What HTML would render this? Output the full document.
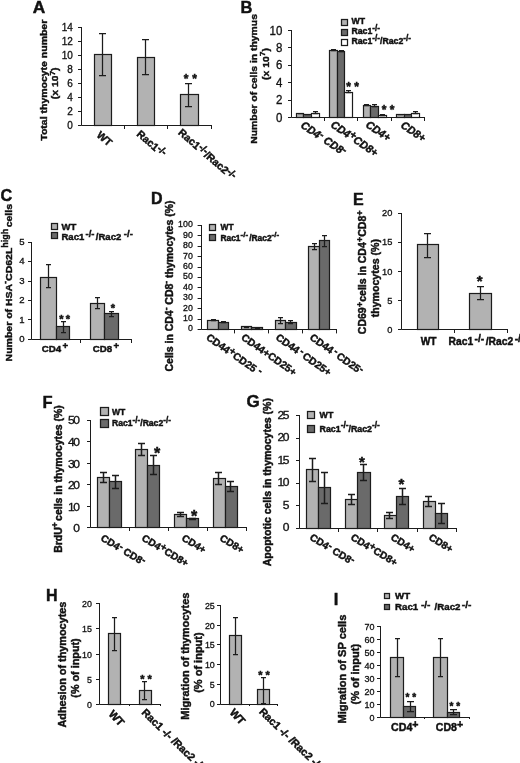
<!DOCTYPE html>
<html lang="en"><head><meta charset="utf-8"><title>Figure</title>
<style>
html,body{margin:0;padding:0;background:#fff}
body{width:520px;height:763px;overflow:hidden}
svg{display:block;font-family:"Liberation Sans",Arial,Helvetica,sans-serif}
</style></head><body>
<svg width="520" height="763" viewBox="0 0 520 763">
<rect width="520" height="763" fill="#fff"/>
<g>
<text transform="translate(32.80 13.20) scale(1.050 1.000)" font-size="16.50" font-weight="bold" stroke="#111111" stroke-width="0.45" fill="#111111">A</text>
<path d="M81.5 27.0V125.5H212.0M78.0 125.5H81.5M78.0 111.5H81.5M78.0 97.5H81.5M78.0 83.5H81.5M78.0 69.5H81.5M78.0 55.5H81.5M78.0 41.5H81.5M78.0 27.5H81.5M124.5 125.5V129.0M167.5 125.5V129.0M211.5 125.5V129.0" stroke="#1c1c1c" stroke-width="1.00" fill="none"/>
<text transform="translate(72.90 129.18) scale(1.000 1.050)" font-size="10.00" stroke="#111111" stroke-width="0.30" text-anchor="end" fill="#111111">0</text>
<text transform="translate(72.90 115.14) scale(1.000 1.050)" font-size="10.00" stroke="#111111" stroke-width="0.30" text-anchor="end" fill="#111111">2</text>
<text transform="translate(72.90 101.10) scale(1.000 1.050)" font-size="10.00" stroke="#111111" stroke-width="0.30" text-anchor="end" fill="#111111">4</text>
<text transform="translate(72.90 87.06) scale(1.000 1.050)" font-size="10.00" stroke="#111111" stroke-width="0.30" text-anchor="end" fill="#111111">6</text>
<text transform="translate(72.90 73.02) scale(1.000 1.050)" font-size="10.00" stroke="#111111" stroke-width="0.30" text-anchor="end" fill="#111111">8</text>
<text transform="translate(72.90 58.98) scale(1.000 1.050)" font-size="10.00" stroke="#111111" stroke-width="0.30" text-anchor="end" fill="#111111">10</text>
<text transform="translate(72.90 44.94) scale(1.000 1.050)" font-size="10.00" stroke="#111111" stroke-width="0.30" text-anchor="end" fill="#111111">12</text>
<text transform="translate(72.90 30.90) scale(1.000 1.050)" font-size="10.00" stroke="#111111" stroke-width="0.30" text-anchor="end" fill="#111111">14</text>
<rect x="94.5" y="54.5" width="17.0" height="71.0" fill="#b2b2b2" stroke="#1c1c1c" stroke-width="1.20"/>
<path d="M102.5 33.5V75.5M99.0 33.5H106.0M99.0 75.5H106.0" stroke="#1c1c1c" stroke-width="1.25" fill="none"/>
<rect x="137.5" y="57.5" width="17.0" height="68.0" fill="#b2b2b2" stroke="#1c1c1c" stroke-width="1.20"/>
<path d="M145.5 39.5V74.5M142.0 39.5H149.0M142.0 74.5H149.0" stroke="#1c1c1c" stroke-width="1.25" fill="none"/>
<rect x="180.5" y="94.5" width="18.0" height="31.0" fill="#b2b2b2" stroke="#1c1c1c" stroke-width="1.20"/>
<path d="M188.5 83.5V106.5M185.0 83.5H192.0M185.0 106.5H192.0" stroke="#1c1c1c" stroke-width="1.25" fill="none"/>
<text transform="translate(186.00 82.50) scale(1.000 1.000)" font-size="12.00" font-weight="bold" stroke="#111111" stroke-width="0.45" text-anchor="middle" fill="#111111">*</text>
<text transform="translate(194.50 82.50) scale(1.000 1.000)" font-size="12.00" font-weight="bold" stroke="#111111" stroke-width="0.45" text-anchor="middle" fill="#111111">*</text>
<text transform="translate(47.00 80.20) rotate(-90.0) scale(1.000 0.900)" font-size="10.50" font-weight="bold" stroke="#111111" stroke-width="0.45" text-anchor="middle" fill="#111111">Total thymocyte number</text>
<text transform="translate(58.30 83.30) rotate(-90.0) scale(1.000 0.900)" font-size="10.40" font-weight="bold" stroke="#111111" stroke-width="0.45" text-anchor="middle" fill="#111111">(x 10<tspan dy="-3.95" font-size="8.32">7</tspan><tspan dy="3.95">)</tspan></text>
<text transform="translate(96.00 136.00) rotate(41.0) scale(1.000 1.000)" font-size="10.50" font-weight="bold" stroke="#111111" stroke-width="0.45" fill="#111111">WT</text>
<text transform="translate(136.00 135.00) rotate(41.0) scale(1.000 1.000)" font-size="10.50" font-weight="bold" stroke="#111111" stroke-width="0.45" fill="#111111">Rac1<tspan dy="-2.31" font-size="9.97">-/-</tspan></text>
<text transform="translate(177.50 133.50) rotate(41.0) scale(1.000 1.000)" font-size="10.50" font-weight="bold" stroke="#111111" stroke-width="0.45" fill="#111111">Rac1<tspan dy="-2.31" font-size="9.97">-/-</tspan><tspan dy="2.31">/Rac2</tspan><tspan dy="-2.31" font-size="9.97">-/-</tspan></text>
</g>
<g>
<text transform="translate(240.50 13.20) scale(1.000 1.000)" font-size="16.50" font-weight="bold" stroke="#111111" stroke-width="0.45" fill="#111111">B</text>
<path d="M291.5 30.0V117.5H425.0M288.0 117.5H291.5M288.0 100.5H291.5M288.0 82.5H291.5M288.0 65.5H291.5M288.0 47.5H291.5M288.0 30.5H291.5M324.5 117.5V121.0M357.5 117.5V121.0M391.5 117.5V121.0M424.5 117.5V121.0" stroke="#1c1c1c" stroke-width="1.00" fill="none"/>
<text transform="translate(282.40 121.55) scale(1.000 1.050)" font-size="11.50" stroke="#111111" stroke-width="0.30" text-anchor="end" fill="#111111">0</text>
<text transform="translate(282.40 104.15) scale(1.000 1.050)" font-size="11.50" stroke="#111111" stroke-width="0.30" text-anchor="end" fill="#111111">2</text>
<text transform="translate(282.40 86.75) scale(1.000 1.050)" font-size="11.50" stroke="#111111" stroke-width="0.30" text-anchor="end" fill="#111111">4</text>
<text transform="translate(282.40 69.35) scale(1.000 1.050)" font-size="11.50" stroke="#111111" stroke-width="0.30" text-anchor="end" fill="#111111">6</text>
<text transform="translate(282.40 51.95) scale(1.000 1.050)" font-size="11.50" stroke="#111111" stroke-width="0.30" text-anchor="end" fill="#111111">8</text>
<text transform="translate(282.40 34.55) scale(1.000 1.050)" font-size="11.50" stroke="#111111" stroke-width="0.30" text-anchor="end" fill="#111111">10</text>
<rect x="296.5" y="113.5" width="7.0" height="4.0" fill="#b2b2b2" stroke="#1c1c1c" stroke-width="1.20"/>
<path d="M300.5 113.5V113.5M298.0 113.5H303.0M298.0 113.5H303.0" stroke="#1c1c1c" stroke-width="1.25" fill="none"/>
<rect x="303.5" y="114.5" width="8.0" height="3.0" fill="#6a6a6a" stroke="#1c1c1c" stroke-width="1.20"/>
<path d="M307.5 114.5V114.5M305.0 114.5H310.0M305.0 114.5H310.0" stroke="#1c1c1c" stroke-width="1.25" fill="none"/>
<rect x="311.5" y="113.5" width="8.0" height="4.0" fill="#ffffff" stroke="#1c1c1c" stroke-width="1.20"/>
<path d="M315.5 111.5V113.5M313.0 111.5H318.0M313.0 113.5H318.0" stroke="#1c1c1c" stroke-width="1.25" fill="none"/>
<rect x="329.5" y="50.5" width="8.0" height="67.0" fill="#b2b2b2" stroke="#1c1c1c" stroke-width="1.20"/>
<path d="M333.5 49.5V50.5M331.0 49.5H336.0M331.0 50.5H336.0" stroke="#1c1c1c" stroke-width="1.25" fill="none"/>
<rect x="337.5" y="51.5" width="7.0" height="66.0" fill="#6a6a6a" stroke="#1c1c1c" stroke-width="1.20"/>
<path d="M341.5 50.5V51.5M339.0 50.5H344.0M339.0 51.5H344.0" stroke="#1c1c1c" stroke-width="1.25" fill="none"/>
<rect x="344.5" y="92.5" width="8.0" height="25.0" fill="#ffffff" stroke="#1c1c1c" stroke-width="1.20"/>
<path d="M348.5 90.5V92.5M346.0 90.5H351.0M346.0 92.5H351.0" stroke="#1c1c1c" stroke-width="1.25" fill="none"/>
<rect x="363.5" y="105.5" width="7.0" height="12.0" fill="#b2b2b2" stroke="#1c1c1c" stroke-width="1.20"/>
<path d="M366.5 104.5V105.5M364.0 104.5H369.0M364.0 105.5H369.0" stroke="#1c1c1c" stroke-width="1.25" fill="none"/>
<rect x="370.5" y="106.5" width="8.0" height="11.0" fill="#6a6a6a" stroke="#1c1c1c" stroke-width="1.20"/>
<path d="M374.5 104.5V106.5M372.0 104.5H377.0M372.0 106.5H377.0" stroke="#1c1c1c" stroke-width="1.25" fill="none"/>
<rect x="378.5" y="115.5" width="8.0" height="2.0" fill="#ffffff" stroke="#1c1c1c" stroke-width="1.20"/>
<path d="M382.5 114.5V115.5M380.0 114.5H385.0M380.0 115.5H385.0" stroke="#1c1c1c" stroke-width="1.25" fill="none"/>
<rect x="396.5" y="114.5" width="8.0" height="3.0" fill="#b2b2b2" stroke="#1c1c1c" stroke-width="1.20"/>
<path d="M400.5 114.5V114.5M398.0 114.5H403.0M398.0 114.5H403.0" stroke="#1c1c1c" stroke-width="1.25" fill="none"/>
<rect x="404.5" y="114.5" width="7.0" height="3.0" fill="#6a6a6a" stroke="#1c1c1c" stroke-width="1.20"/>
<path d="M407.5 114.5V114.5M405.0 114.5H410.0M405.0 114.5H410.0" stroke="#1c1c1c" stroke-width="1.25" fill="none"/>
<rect x="411.5" y="113.5" width="8.0" height="4.0" fill="#ffffff" stroke="#1c1c1c" stroke-width="1.20"/>
<path d="M415.5 111.5V113.5M413.0 111.5H418.0M413.0 113.5H418.0" stroke="#1c1c1c" stroke-width="1.25" fill="none"/>
<text transform="translate(348.50 91.00) scale(1.000 1.000)" font-size="12.00" font-weight="bold" stroke="#111111" stroke-width="0.45" text-anchor="middle" fill="#111111">*</text>
<text transform="translate(356.50 91.00) scale(1.000 1.000)" font-size="12.00" font-weight="bold" stroke="#111111" stroke-width="0.45" text-anchor="middle" fill="#111111">*</text>
<text transform="translate(384.00 113.50) scale(1.000 1.000)" font-size="12.00" font-weight="bold" stroke="#111111" stroke-width="0.45" text-anchor="middle" fill="#111111">*</text>
<text transform="translate(392.00 113.50) scale(1.000 1.000)" font-size="12.00" font-weight="bold" stroke="#111111" stroke-width="0.45" text-anchor="middle" fill="#111111">*</text>
<rect x="341.5" y="19.5" width="6.0" height="6.0" fill="#b2b2b2" stroke="#1c1c1c" stroke-width="1.25"/>
<text transform="translate(351.50 24.40) scale(1.000 1.000)" font-size="8.70" font-weight="bold" stroke="#111111" stroke-width="0.45" fill="#111111">WT</text>
<rect x="341.5" y="29.5" width="6.0" height="6.0" fill="#6a6a6a" stroke="#1c1c1c" stroke-width="1.25"/>
<text transform="translate(351.50 34.20) scale(1.000 1.000)" font-size="8.70" font-weight="bold" stroke="#111111" stroke-width="0.45" fill="#111111">Rac1<tspan dy="-2.87" font-size="8.26">-/-</tspan></text>
<rect x="341.5" y="39.5" width="6.0" height="6.0" fill="#ffffff" stroke="#1c1c1c" stroke-width="1.25"/>
<text transform="translate(351.50 44.20) scale(1.000 1.000)" font-size="8.70" font-weight="bold" stroke="#111111" stroke-width="0.45" fill="#111111">Rac1<tspan dy="-2.87" font-size="8.26">-/-</tspan><tspan dy="2.87">/Rac2</tspan><tspan dy="-2.87" font-size="8.26">-/-</tspan></text>
<text transform="translate(257.00 78.90) rotate(-90.0) scale(1.000 0.880)" font-size="10.39" font-weight="bold" stroke="#111111" stroke-width="0.45" text-anchor="middle" fill="#111111">Number of cells in thymus</text>
<text transform="translate(268.90 64.00) rotate(-90.0) scale(1.000 0.900)" font-size="10.40" font-weight="bold" stroke="#111111" stroke-width="0.45" text-anchor="middle" fill="#111111">(x 10<tspan dy="-3.95" font-size="8.32">7</tspan><tspan dy="3.95">)</tspan></text>
<text transform="translate(300.00 127.00) rotate(34.0) scale(1.000 1.050)" font-size="10.50" font-weight="bold" stroke="#111111" stroke-width="0.45" fill="#111111" font-style="italic">CD4<tspan dy="-2.31" font-size="10.50">-</tspan><tspan dy="2.31"> CD8</tspan><tspan dy="-2.31" font-size="10.50">-</tspan></text>
<text transform="translate(330.00 126.50) rotate(34.0) scale(1.000 1.050)" font-size="10.50" font-weight="bold" stroke="#111111" stroke-width="0.45" fill="#111111" font-style="italic">CD4<tspan dy="-2.31" font-size="10.50">+</tspan><tspan dy="2.31">CD8+</tspan></text>
<text transform="translate(365.00 126.50) rotate(34.0) scale(1.000 1.050)" font-size="10.50" font-weight="bold" stroke="#111111" stroke-width="0.45" fill="#111111" font-style="italic">CD4+</text>
<text transform="translate(400.00 127.00) rotate(34.0) scale(1.000 1.050)" font-size="10.50" font-weight="bold" stroke="#111111" stroke-width="0.45" fill="#111111" font-style="italic">CD8+</text>
</g>
<g>
<text transform="translate(0.40 201.00) scale(1.000 1.000)" font-size="16.20" font-weight="bold" stroke="#111111" stroke-width="0.45" fill="#111111">C</text>
<path d="M31.5 242.0V339.5H132.0M28.0 339.5H31.5M28.0 319.5H31.5M28.0 300.5H31.5M28.0 281.5H31.5M28.0 261.5H31.5M28.0 242.5H31.5M80.5 339.5V343.0M131.5 339.5V343.0" stroke="#1c1c1c" stroke-width="1.00" fill="none"/>
<text transform="translate(24.60 342.03) scale(1.100 1.000)" font-size="8.70" stroke="#111111" stroke-width="0.30" text-anchor="end" fill="#111111">0</text>
<text transform="translate(24.60 322.63) scale(1.100 1.000)" font-size="8.70" stroke="#111111" stroke-width="0.30" text-anchor="end" fill="#111111">1</text>
<text transform="translate(24.60 303.23) scale(1.100 1.000)" font-size="8.70" stroke="#111111" stroke-width="0.30" text-anchor="end" fill="#111111">2</text>
<text transform="translate(24.60 283.83) scale(1.100 1.000)" font-size="8.70" stroke="#111111" stroke-width="0.30" text-anchor="end" fill="#111111">3</text>
<text transform="translate(24.60 264.43) scale(1.100 1.000)" font-size="8.70" stroke="#111111" stroke-width="0.30" text-anchor="end" fill="#111111">4</text>
<text transform="translate(24.60 245.03) scale(1.100 1.000)" font-size="8.70" stroke="#111111" stroke-width="0.30" text-anchor="end" fill="#111111">5</text>
<rect x="40.5" y="277.5" width="16.0" height="62.0" fill="#b2b2b2" stroke="#1c1c1c" stroke-width="1.20"/>
<path d="M48.5 264.5V287.5M46.0 264.5H51.0M46.0 287.5H51.0" stroke="#1c1c1c" stroke-width="1.25" fill="none"/>
<rect x="56.5" y="326.5" width="13.0" height="13.0" fill="#6a6a6a" stroke="#1c1c1c" stroke-width="1.20"/>
<path d="M63.5 321.5V332.5M61.0 321.5H66.0M61.0 332.5H66.0" stroke="#1c1c1c" stroke-width="1.25" fill="none"/>
<rect x="90.5" y="303.5" width="14.0" height="36.0" fill="#b2b2b2" stroke="#1c1c1c" stroke-width="1.20"/>
<path d="M97.5 297.5V308.5M95.0 297.5H100.0M95.0 308.5H100.0" stroke="#1c1c1c" stroke-width="1.25" fill="none"/>
<rect x="104.5" y="313.5" width="14.0" height="26.0" fill="#6a6a6a" stroke="#1c1c1c" stroke-width="1.20"/>
<path d="M111.5 311.5V316.5M109.0 311.5H114.0M109.0 316.5H114.0" stroke="#1c1c1c" stroke-width="1.25" fill="none"/>
<text transform="translate(61.50 323.00) scale(1.000 1.000)" font-size="11.00" font-weight="bold" stroke="#111111" stroke-width="0.45" text-anchor="middle" fill="#111111">*</text>
<text transform="translate(68.00 323.00) scale(1.000 1.000)" font-size="11.00" font-weight="bold" stroke="#111111" stroke-width="0.45" text-anchor="middle" fill="#111111">*</text>
<text transform="translate(113.00 311.50) scale(1.000 1.000)" font-size="11.00" font-weight="bold" stroke="#111111" stroke-width="0.45" text-anchor="middle" fill="#111111">*</text>
<rect x="51.5" y="223.5" width="6.0" height="6.0" fill="#b2b2b2" stroke="#1c1c1c" stroke-width="1.25"/>
<text transform="translate(61.50 230.20) scale(1.000 1.000)" font-size="9.50" font-weight="bold" stroke="#111111" stroke-width="0.45" fill="#111111">WT</text>
<rect x="51.5" y="232.5" width="6.0" height="6.0" fill="#6a6a6a" stroke="#1c1c1c" stroke-width="1.25"/>
<text transform="translate(61.50 239.50) scale(1.000 1.000)" font-size="9.50" font-weight="bold" stroke="#111111" stroke-width="0.45" fill="#111111">Rac1<tspan dx="1.33" dy="-2.85" font-size="9.50">-/-</tspan><tspan dx="1.33" dy="2.85">/Rac2</tspan><tspan dx="2.66" dy="-2.85" font-size="9.50">-/-</tspan></text>
<text transform="translate(11.60 282.70) rotate(-90.0) scale(1.000 0.920)" font-size="10.50" font-weight="bold" stroke="#111111" stroke-width="0.45" text-anchor="middle" fill="#111111">Number of HSA<tspan dy="-4.20" font-size="8.92">-</tspan><tspan dy="4.20">CD62L</tspan><tspan dy="-4.20" font-size="8.92">high</tspan><tspan dx="1.47" dy="4.20">cells</tspan></text>
<text transform="translate(55.00 351.50) scale(1.000 1.000)" font-size="9.70" font-weight="bold" stroke="#111111" stroke-width="0.45" text-anchor="middle" fill="#111111">CD4<tspan dx="1.36" dy="-2.42" font-size="9.70">+</tspan></text>
<text transform="translate(106.00 351.50) scale(1.000 1.000)" font-size="9.70" font-weight="bold" stroke="#111111" stroke-width="0.45" text-anchor="middle" fill="#111111">CD8<tspan dx="1.36" dy="-2.42" font-size="9.70">+</tspan></text>
</g>
<g>
<text transform="translate(151.00 203.80) scale(1.000 1.000)" font-size="16.00" font-weight="bold" stroke="#111111" stroke-width="0.45" fill="#111111">D</text>
<path d="M201.5 225.0V329.5H337.0M197.6 329.5H201.5M197.6 319.5H201.5M197.6 308.5H201.5M197.6 298.5H201.5M197.6 287.5H201.5M197.6 277.5H201.5M197.6 267.5H201.5M197.6 256.5H201.5M197.6 246.5H201.5M197.6 235.5H201.5M197.6 225.5H201.5M234.5 329.5V333.4M268.5 329.5V333.4M302.5 329.5V333.4M336.5 329.5V333.4" stroke="#1c1c1c" stroke-width="1.00" fill="none"/>
<text transform="translate(192.80 331.48) scale(1.000 1.100)" font-size="8.80" stroke="#111111" stroke-width="0.30" text-anchor="end" fill="#111111">0</text>
<text transform="translate(192.80 321.08) scale(1.000 1.100)" font-size="8.80" stroke="#111111" stroke-width="0.30" text-anchor="end" fill="#111111">10</text>
<text transform="translate(192.80 310.68) scale(1.000 1.100)" font-size="8.80" stroke="#111111" stroke-width="0.30" text-anchor="end" fill="#111111">20</text>
<text transform="translate(192.80 300.28) scale(1.000 1.100)" font-size="8.80" stroke="#111111" stroke-width="0.30" text-anchor="end" fill="#111111">30</text>
<text transform="translate(192.80 289.88) scale(1.000 1.100)" font-size="8.80" stroke="#111111" stroke-width="0.30" text-anchor="end" fill="#111111">40</text>
<text transform="translate(192.80 279.48) scale(1.000 1.100)" font-size="8.80" stroke="#111111" stroke-width="0.30" text-anchor="end" fill="#111111">50</text>
<text transform="translate(192.80 269.08) scale(1.000 1.100)" font-size="8.80" stroke="#111111" stroke-width="0.30" text-anchor="end" fill="#111111">60</text>
<text transform="translate(192.80 258.68) scale(1.000 1.100)" font-size="8.80" stroke="#111111" stroke-width="0.30" text-anchor="end" fill="#111111">70</text>
<text transform="translate(192.80 248.28) scale(1.000 1.100)" font-size="8.80" stroke="#111111" stroke-width="0.30" text-anchor="end" fill="#111111">80</text>
<text transform="translate(192.80 237.88) scale(1.000 1.100)" font-size="8.80" stroke="#111111" stroke-width="0.30" text-anchor="end" fill="#111111">90</text>
<text transform="translate(192.80 227.48) scale(1.000 1.100)" font-size="8.80" stroke="#111111" stroke-width="0.30" text-anchor="end" fill="#111111">100</text>
<rect x="207.5" y="320.5" width="11.0" height="9.0" fill="#b2b2b2" stroke="#1c1c1c" stroke-width="1.20"/>
<path d="M213.5 319.5V320.5M211.0 319.5H216.0M211.0 320.5H216.0" stroke="#1c1c1c" stroke-width="1.25" fill="none"/>
<rect x="218.5" y="322.5" width="10.0" height="7.0" fill="#6a6a6a" stroke="#1c1c1c" stroke-width="1.20"/>
<path d="M223.5 321.5V322.5M221.0 321.5H226.0M221.0 322.5H226.0" stroke="#1c1c1c" stroke-width="1.25" fill="none"/>
<rect x="241.5" y="326.5" width="10.0" height="3.0" fill="#b2b2b2" stroke="#1c1c1c" stroke-width="1.20"/>
<path d="M246.5 326.5V327.5M244.0 326.5H249.0M244.0 327.5H249.0" stroke="#1c1c1c" stroke-width="1.25" fill="none"/>
<rect x="251.5" y="327.5" width="11.0" height="2.0" fill="#6a6a6a" stroke="#1c1c1c" stroke-width="1.20"/>
<path d="M257.5 327.5V328.5M255.0 327.5H260.0M255.0 328.5H260.0" stroke="#1c1c1c" stroke-width="1.25" fill="none"/>
<rect x="275.5" y="320.5" width="10.0" height="9.0" fill="#b2b2b2" stroke="#1c1c1c" stroke-width="1.20"/>
<path d="M280.5 317.5V323.5M278.0 317.5H283.0M278.0 323.5H283.0" stroke="#1c1c1c" stroke-width="1.25" fill="none"/>
<rect x="285.5" y="322.5" width="11.0" height="7.0" fill="#6a6a6a" stroke="#1c1c1c" stroke-width="1.20"/>
<path d="M290.5 320.5V323.5M288.0 320.5H293.0M288.0 323.5H293.0" stroke="#1c1c1c" stroke-width="1.25" fill="none"/>
<rect x="308.5" y="246.5" width="11.0" height="83.0" fill="#b2b2b2" stroke="#1c1c1c" stroke-width="1.20"/>
<path d="M314.5 243.5V249.5M312.0 243.5H317.0M312.0 249.5H317.0" stroke="#1c1c1c" stroke-width="1.25" fill="none"/>
<rect x="319.5" y="240.5" width="10.0" height="89.0" fill="#6a6a6a" stroke="#1c1c1c" stroke-width="1.20"/>
<path d="M324.5 235.5V246.5M322.0 235.5H327.0M322.0 246.5H327.0" stroke="#1c1c1c" stroke-width="1.25" fill="none"/>
<rect x="209.5" y="224.5" width="6.0" height="6.0" fill="#b2b2b2" stroke="#1c1c1c" stroke-width="1.25"/>
<text transform="translate(220.50 230.20) scale(1.000 1.000)" font-size="8.40" font-weight="bold" stroke="#111111" stroke-width="0.45" fill="#111111">WT</text>
<rect x="209.5" y="234.5" width="6.0" height="6.0" fill="#6a6a6a" stroke="#1c1c1c" stroke-width="1.25"/>
<text transform="translate(220.50 240.80) scale(1.000 1.000)" font-size="8.40" font-weight="bold" stroke="#111111" stroke-width="0.45" fill="#111111">Rac1<tspan dy="-3.36" font-size="7.98">-/-</tspan><tspan dx="1.18" dy="3.36">/Rac2</tspan><tspan dy="-3.36" font-size="7.98">-/-</tspan></text>
<text transform="translate(172.70 286.00) rotate(-90.0) scale(1.000 0.980)" font-size="10.50" font-weight="bold" stroke="#111111" stroke-width="0.45" text-anchor="middle" fill="#111111">Cells in CD4<tspan dy="-3.99" font-size="8.40">-</tspan><tspan dy="3.99"> CD8</tspan><tspan dy="-3.99" font-size="8.40">-</tspan><tspan dy="3.99"> thymocytes (%)</tspan></text>
<text transform="translate(205.50 339.00) rotate(35.0) scale(1.000 1.000)" font-size="10.30" font-weight="bold" stroke="#111111" stroke-width="0.45" fill="#111111">CD44<tspan dy="-2.27" font-size="10.30">+</tspan><tspan dy="2.27">CD25 </tspan><tspan dy="-2.27" font-size="10.30">-</tspan></text>
<text transform="translate(240.50 339.00) rotate(35.0) scale(1.000 1.000)" font-size="10.30" font-weight="bold" stroke="#111111" stroke-width="0.45" fill="#111111">CD44+CD25+</text>
<text transform="translate(275.00 339.00) rotate(35.0) scale(1.000 1.000)" font-size="10.30" font-weight="bold" stroke="#111111" stroke-width="0.45" fill="#111111">CD44<tspan dx="1.44" dy="-2.27" font-size="10.30">-</tspan><tspan dx="1.44" dy="2.27">CD25+</tspan></text>
<text transform="translate(309.00 339.00) rotate(35.0) scale(1.000 1.000)" font-size="10.30" font-weight="bold" stroke="#111111" stroke-width="0.45" fill="#111111">CD44<tspan dx="1.44" dy="-2.27" font-size="10.30">-</tspan><tspan dx="1.44" dy="2.27">CD25</tspan><tspan dy="-2.27" font-size="10.30">-</tspan></text>
</g>
<g>
<text transform="translate(353.00 204.80) scale(1.000 1.000)" font-size="16.00" font-weight="bold" stroke="#111111" stroke-width="0.45" fill="#111111">E</text>
<path d="M401.5 213.0V329.5H508.0M398.0 329.5H401.5M398.0 300.5H401.5M398.0 271.5H401.5M398.0 242.5H401.5M398.0 213.5H401.5M454.5 329.5V333.0M507.5 329.5V333.0" stroke="#1c1c1c" stroke-width="1.00" fill="none"/>
<text transform="translate(392.30 332.72) scale(1.000 1.050)" font-size="9.30" stroke="#111111" stroke-width="0.30" text-anchor="end" fill="#111111">0</text>
<text transform="translate(392.30 303.62) scale(1.000 1.050)" font-size="9.30" stroke="#111111" stroke-width="0.30" text-anchor="end" fill="#111111">5</text>
<text transform="translate(392.30 274.52) scale(1.000 1.050)" font-size="9.30" stroke="#111111" stroke-width="0.30" text-anchor="end" fill="#111111">10</text>
<text transform="translate(392.30 245.42) scale(1.000 1.050)" font-size="9.30" stroke="#111111" stroke-width="0.30" text-anchor="end" fill="#111111">15</text>
<text transform="translate(392.30 216.32) scale(1.000 1.050)" font-size="9.30" stroke="#111111" stroke-width="0.30" text-anchor="end" fill="#111111">20</text>
<rect x="417.5" y="244.5" width="21.0" height="85.0" fill="#b2b2b2" stroke="#1c1c1c" stroke-width="1.20"/>
<path d="M427.5 233.5V257.5M424.0 233.5H431.0M424.0 257.5H431.0" stroke="#1c1c1c" stroke-width="1.25" fill="none"/>
<rect x="469.5" y="293.5" width="22.0" height="36.0" fill="#b2b2b2" stroke="#1c1c1c" stroke-width="1.20"/>
<path d="M480.5 286.5V299.5M477.0 286.5H484.0M477.0 299.5H484.0" stroke="#1c1c1c" stroke-width="1.25" fill="none"/>
<text transform="translate(479.70 285.60) scale(1.000 1.000)" font-size="15.00" font-weight="bold" stroke="#111111" stroke-width="0.45" text-anchor="middle" fill="#111111">*</text>
<text transform="translate(365.50 272.20) rotate(-90.0) scale(1.000 1.000)" font-size="10.50" font-weight="bold" stroke="#111111" stroke-width="0.45" text-anchor="middle" fill="#111111">CD69<tspan dy="-2.83" font-size="9.45">+</tspan><tspan dy="2.83">cells in CD4</tspan><tspan dy="-2.83" font-size="9.45">+</tspan><tspan dy="2.83">CD8</tspan><tspan dy="-2.83" font-size="9.45">+</tspan></text>
<text transform="translate(379.00 278.20) rotate(-90.0) scale(1.000 1.000)" font-size="10.60" font-weight="bold" stroke="#111111" stroke-width="0.45" text-anchor="middle" fill="#111111">thymocytes (%)</text>
<text transform="translate(428.60 344.60) scale(1.000 1.000)" font-size="10.20" font-weight="bold" stroke="#111111" stroke-width="0.45" text-anchor="middle" fill="#111111">WT</text>
<text transform="translate(448.50 344.60) scale(1.000 1.000)" font-size="10.30" font-weight="bold" stroke="#111111" stroke-width="0.45" fill="#111111">Rac1<tspan dx="1.44" dy="-3.09" font-size="10.30">-/-</tspan><tspan dx="1.44" dy="3.09">/Rac2</tspan><tspan dx="1.44" dy="-3.09" font-size="10.30">-/-</tspan></text>
</g>
<g>
<text transform="translate(42.50 408.30) scale(1.000 1.000)" font-size="16.50" font-weight="bold" stroke="#111111" stroke-width="0.45" fill="#111111">F</text>
<path d="M90.5 420.0V527.5H247.0M87.0 527.5H90.5M87.0 506.5H90.5M87.0 484.5H90.5M87.0 463.5H90.5M87.0 441.5H90.5M87.0 420.5H90.5M129.5 527.5V531.0M168.5 527.5V531.0M207.5 527.5V531.0M246.5 527.5V531.0" stroke="#1c1c1c" stroke-width="1.00" fill="none"/>
<text transform="translate(78.60 532.08) scale(1.150 1.000)" font-size="10.50" stroke="#111111" stroke-width="0.30" text-anchor="end" letter-spacing="-1.20" fill="#111111">0</text>
<text transform="translate(78.60 510.56) scale(1.150 1.000)" font-size="10.50" stroke="#111111" stroke-width="0.30" text-anchor="end" letter-spacing="-1.20" fill="#111111">10</text>
<text transform="translate(78.60 489.04) scale(1.150 1.000)" font-size="10.50" stroke="#111111" stroke-width="0.30" text-anchor="end" letter-spacing="-1.20" fill="#111111">20</text>
<text transform="translate(78.60 467.52) scale(1.150 1.000)" font-size="10.50" stroke="#111111" stroke-width="0.30" text-anchor="end" letter-spacing="-1.20" fill="#111111">30</text>
<text transform="translate(78.60 446.00) scale(1.150 1.000)" font-size="10.50" stroke="#111111" stroke-width="0.30" text-anchor="end" letter-spacing="-1.20" fill="#111111">40</text>
<text transform="translate(78.60 424.48) scale(1.150 1.000)" font-size="10.50" stroke="#111111" stroke-width="0.30" text-anchor="end" letter-spacing="-1.20" fill="#111111">50</text>
<rect x="97.5" y="477.5" width="12.0" height="50.0" fill="#b2b2b2" stroke="#1c1c1c" stroke-width="1.20"/>
<path d="M103.5 472.5V482.5M100.0 472.5H107.0M100.0 482.5H107.0" stroke="#1c1c1c" stroke-width="1.50" fill="none"/>
<rect x="109.5" y="481.5" width="12.0" height="46.0" fill="#6a6a6a" stroke="#1c1c1c" stroke-width="1.20"/>
<path d="M115.5 475.5V488.5M112.0 475.5H119.0M112.0 488.5H119.0" stroke="#1c1c1c" stroke-width="1.50" fill="none"/>
<rect x="135.5" y="449.5" width="12.0" height="78.0" fill="#b2b2b2" stroke="#1c1c1c" stroke-width="1.20"/>
<path d="M141.5 443.5V455.5M138.0 443.5H145.0M138.0 455.5H145.0" stroke="#1c1c1c" stroke-width="1.50" fill="none"/>
<rect x="147.5" y="465.5" width="12.0" height="62.0" fill="#6a6a6a" stroke="#1c1c1c" stroke-width="1.20"/>
<path d="M153.5 455.5V474.5M150.0 455.5H157.0M150.0 474.5H157.0" stroke="#1c1c1c" stroke-width="1.50" fill="none"/>
<rect x="174.5" y="514.5" width="12.0" height="13.0" fill="#b2b2b2" stroke="#1c1c1c" stroke-width="1.20"/>
<path d="M180.5 512.5V516.5M177.0 512.5H184.0M177.0 516.5H184.0" stroke="#1c1c1c" stroke-width="1.50" fill="none"/>
<rect x="186.5" y="518.5" width="12.0" height="9.0" fill="#6a6a6a" stroke="#1c1c1c" stroke-width="1.20"/>
<path d="M192.5 518.5V519.5M189.0 518.5H196.0M189.0 519.5H196.0" stroke="#1c1c1c" stroke-width="1.50" fill="none"/>
<rect x="213.5" y="478.5" width="12.0" height="49.0" fill="#b2b2b2" stroke="#1c1c1c" stroke-width="1.20"/>
<path d="M218.5 472.5V484.5M215.0 472.5H222.0M215.0 484.5H222.0" stroke="#1c1c1c" stroke-width="1.50" fill="none"/>
<rect x="225.5" y="486.5" width="12.0" height="41.0" fill="#6a6a6a" stroke="#1c1c1c" stroke-width="1.20"/>
<path d="M230.5 481.5V491.5M227.0 481.5H234.0M227.0 491.5H234.0" stroke="#1c1c1c" stroke-width="1.50" fill="none"/>
<text transform="translate(157.00 458.50) scale(1.000 1.000)" font-size="16.00" font-weight="bold" stroke="#111111" stroke-width="0.45" text-anchor="middle" fill="#111111">*</text>
<text transform="translate(194.00 521.50) scale(1.000 1.000)" font-size="16.00" font-weight="bold" stroke="#111111" stroke-width="0.45" text-anchor="middle" fill="#111111">*</text>
<rect x="100.5" y="407.5" width="8.0" height="8.0" fill="#b2b2b2" stroke="#1c1c1c" stroke-width="1.25"/>
<text transform="translate(112.00 415.00) scale(1.000 1.000)" font-size="8.60" font-weight="bold" stroke="#111111" stroke-width="0.45" fill="#111111">WT</text>
<rect x="100.5" y="419.5" width="8.0" height="8.0" fill="#6a6a6a" stroke="#1c1c1c" stroke-width="1.25"/>
<text transform="translate(112.00 426.40) scale(1.000 1.000)" font-size="8.60" font-weight="bold" stroke="#111111" stroke-width="0.45" fill="#111111">Rac1<tspan dy="-3.61" font-size="8.17">-/-</tspan><tspan dy="3.61">/Rac2</tspan><tspan dy="-3.61" font-size="8.17">-/-</tspan></text>
<text transform="translate(62.00 479.00) rotate(-90.0) scale(1.000 1.030)" font-size="10.48" font-weight="bold" stroke="#111111" stroke-width="0.45" text-anchor="middle" fill="#111111">BrdU<tspan dy="-3.98" font-size="8.38">+</tspan><tspan dx="1.47" dy="3.98">cells in thymocytes (%)</tspan></text>
<text transform="translate(100.00 540.00) rotate(31.0) scale(1.000 1.000)" font-size="10.10" font-weight="bold" stroke="#111111" stroke-width="0.45" fill="#111111">CD4<tspan dy="-2.22" font-size="10.10">-</tspan><tspan dy="2.22"> CD8</tspan><tspan dy="-2.22" font-size="10.10">-</tspan></text>
<text transform="translate(141.00 540.00) rotate(31.0) scale(1.000 1.000)" font-size="10.10" font-weight="bold" stroke="#111111" stroke-width="0.45" fill="#111111">CD4<tspan dy="-2.22" font-size="10.10">+</tspan><tspan dy="2.22">CD8+</tspan></text>
<text transform="translate(181.00 540.00) rotate(31.0) scale(1.000 1.000)" font-size="10.10" font-weight="bold" stroke="#111111" stroke-width="0.45" fill="#111111">CD4+</text>
<text transform="translate(219.00 540.00) rotate(31.0) scale(1.000 1.000)" font-size="10.10" font-weight="bold" stroke="#111111" stroke-width="0.45" fill="#111111">CD8+</text>
</g>
<g>
<text transform="translate(246.50 407.30) scale(1.000 1.000)" font-size="17.00" font-weight="bold" stroke="#111111" stroke-width="0.45" fill="#111111">G</text>
<path d="M299.5 415.0V528.5H457.0M296.0 528.5H299.5M296.0 505.5H299.5M296.0 483.5H299.5M296.0 460.5H299.5M296.0 438.5H299.5M296.0 415.5H299.5M338.5 528.5V532.0M377.5 528.5V532.0M417.5 528.5V532.0M456.5 528.5V532.0" stroke="#1c1c1c" stroke-width="1.00" fill="none"/>
<text transform="translate(288.20 531.18) scale(1.150 1.000)" font-size="10.50" stroke="#111111" stroke-width="0.30" text-anchor="end" letter-spacing="-1.20" fill="#111111">0</text>
<text transform="translate(288.20 508.68) scale(1.150 1.000)" font-size="10.50" stroke="#111111" stroke-width="0.30" text-anchor="end" letter-spacing="-1.20" fill="#111111">5</text>
<text transform="translate(288.20 486.18) scale(1.150 1.000)" font-size="10.50" stroke="#111111" stroke-width="0.30" text-anchor="end" letter-spacing="-1.20" fill="#111111">10</text>
<text transform="translate(288.20 463.68) scale(1.150 1.000)" font-size="10.50" stroke="#111111" stroke-width="0.30" text-anchor="end" letter-spacing="-1.20" fill="#111111">15</text>
<text transform="translate(288.20 441.18) scale(1.150 1.000)" font-size="10.50" stroke="#111111" stroke-width="0.30" text-anchor="end" letter-spacing="-1.20" fill="#111111">20</text>
<text transform="translate(288.20 418.68) scale(1.150 1.000)" font-size="10.50" stroke="#111111" stroke-width="0.30" text-anchor="end" letter-spacing="-1.20" fill="#111111">25</text>
<rect x="306.5" y="469.5" width="12.0" height="59.0" fill="#b2b2b2" stroke="#1c1c1c" stroke-width="1.20"/>
<path d="M312.5 458.5V481.5M309.0 458.5H316.0M309.0 481.5H316.0" stroke="#1c1c1c" stroke-width="1.50" fill="none"/>
<rect x="318.5" y="487.5" width="12.0" height="41.0" fill="#6a6a6a" stroke="#1c1c1c" stroke-width="1.20"/>
<path d="M324.5 472.5V503.5M321.0 472.5H328.0M321.0 503.5H328.0" stroke="#1c1c1c" stroke-width="1.50" fill="none"/>
<rect x="345.5" y="499.5" width="12.0" height="29.0" fill="#b2b2b2" stroke="#1c1c1c" stroke-width="1.20"/>
<path d="M351.5 494.5V504.5M348.0 494.5H355.0M348.0 504.5H355.0" stroke="#1c1c1c" stroke-width="1.50" fill="none"/>
<rect x="357.5" y="472.5" width="13.0" height="56.0" fill="#6a6a6a" stroke="#1c1c1c" stroke-width="1.20"/>
<path d="M363.5 464.5V480.5M360.0 464.5H367.0M360.0 480.5H367.0" stroke="#1c1c1c" stroke-width="1.50" fill="none"/>
<rect x="384.5" y="515.5" width="12.0" height="13.0" fill="#b2b2b2" stroke="#1c1c1c" stroke-width="1.20"/>
<path d="M389.5 512.5V518.5M386.0 512.5H393.0M386.0 518.5H393.0" stroke="#1c1c1c" stroke-width="1.50" fill="none"/>
<rect x="396.5" y="496.5" width="12.0" height="32.0" fill="#6a6a6a" stroke="#1c1c1c" stroke-width="1.20"/>
<path d="M402.5 488.5V504.5M399.0 488.5H406.0M399.0 504.5H406.0" stroke="#1c1c1c" stroke-width="1.50" fill="none"/>
<rect x="423.5" y="501.5" width="12.0" height="27.0" fill="#b2b2b2" stroke="#1c1c1c" stroke-width="1.20"/>
<path d="M428.5 496.5V506.5M425.0 496.5H432.0M425.0 506.5H432.0" stroke="#1c1c1c" stroke-width="1.50" fill="none"/>
<rect x="435.5" y="513.5" width="12.0" height="15.0" fill="#6a6a6a" stroke="#1c1c1c" stroke-width="1.20"/>
<path d="M441.5 503.5V523.5M438.0 503.5H445.0M438.0 523.5H445.0" stroke="#1c1c1c" stroke-width="1.50" fill="none"/>
<text transform="translate(362.00 467.30) scale(1.000 1.000)" font-size="15.00" font-weight="bold" stroke="#111111" stroke-width="0.45" text-anchor="middle" fill="#111111">*</text>
<text transform="translate(401.50 489.00) scale(1.000 1.000)" font-size="15.00" font-weight="bold" stroke="#111111" stroke-width="0.45" text-anchor="middle" fill="#111111">*</text>
<rect x="307.5" y="411.5" width="7.0" height="7.0" fill="#b2b2b2" stroke="#1c1c1c" stroke-width="1.25"/>
<text transform="translate(319.60 418.40) scale(1.000 1.000)" font-size="8.80" font-weight="bold" stroke="#111111" stroke-width="0.45" fill="#111111">WT</text>
<rect x="307.5" y="425.5" width="7.0" height="7.0" fill="#6a6a6a" stroke="#1c1c1c" stroke-width="1.25"/>
<text transform="translate(319.60 431.80) scale(1.000 1.000)" font-size="8.80" font-weight="bold" stroke="#111111" stroke-width="0.45" fill="#111111">Rac1<tspan dy="-3.70" font-size="8.36">-/-</tspan><tspan dy="3.70">/Rac2</tspan><tspan dy="-3.70" font-size="8.36">-/-</tspan></text>
<text transform="translate(270.60 482.20) rotate(-90.0) scale(1.000 1.100)" font-size="10.52" font-weight="bold" stroke="#111111" stroke-width="0.45" text-anchor="middle" fill="#111111">Apoptotic cells in thymocytes (%)</text>
<text transform="translate(309.00 539.30) rotate(31.0) scale(1.000 1.000)" font-size="10.10" font-weight="bold" stroke="#111111" stroke-width="0.45" fill="#111111">CD4<tspan dy="-2.22" font-size="10.10">-</tspan><tspan dy="2.22"> CD8</tspan><tspan dy="-2.22" font-size="10.10">-</tspan></text>
<text transform="translate(350.00 539.30) rotate(31.0) scale(1.000 1.000)" font-size="10.10" font-weight="bold" stroke="#111111" stroke-width="0.45" fill="#111111">CD4<tspan dy="-2.22" font-size="10.10">+</tspan><tspan dy="2.22">CD8+</tspan></text>
<text transform="translate(390.00 539.30) rotate(31.0) scale(1.000 1.000)" font-size="10.10" font-weight="bold" stroke="#111111" stroke-width="0.45" fill="#111111">CD4+</text>
<text transform="translate(428.00 539.30) rotate(31.0) scale(1.000 1.000)" font-size="10.10" font-weight="bold" stroke="#111111" stroke-width="0.45" fill="#111111">CD8+</text>
</g>
<g>
<text transform="translate(46.00 600.70) scale(1.000 1.000)" font-size="16.00" font-weight="bold" stroke="#111111" stroke-width="0.45" fill="#111111">H</text>
<path d="M99.5 603.0V704.5H161.0M96.0 704.5H99.5M96.0 679.5H99.5M96.0 654.5H99.5M96.0 628.5H99.5M96.0 603.5H99.5M129.5 704.5V706.0M160.5 704.5V706.0" stroke="#1c1c1c" stroke-width="1.00" fill="none"/>
<text transform="translate(91.90 708.20) scale(1.000 1.000)" font-size="8.90" stroke="#111111" stroke-width="0.30" text-anchor="end" fill="#111111">0</text>
<text transform="translate(91.90 682.95) scale(1.000 1.000)" font-size="8.90" stroke="#111111" stroke-width="0.30" text-anchor="end" fill="#111111">5</text>
<text transform="translate(91.90 657.70) scale(1.000 1.000)" font-size="8.90" stroke="#111111" stroke-width="0.30" text-anchor="end" fill="#111111">10</text>
<text transform="translate(91.90 632.45) scale(1.000 1.000)" font-size="8.90" stroke="#111111" stroke-width="0.30" text-anchor="end" fill="#111111">15</text>
<text transform="translate(91.90 607.20) scale(1.000 1.000)" font-size="8.90" stroke="#111111" stroke-width="0.30" text-anchor="end" fill="#111111">20</text>
<rect x="108.5" y="633.5" width="12.0" height="71.0" fill="#b2b2b2" stroke="#1c1c1c" stroke-width="1.20"/>
<path d="M114.5 617.5V650.5M112.0 617.5H117.0M112.0 650.5H117.0" stroke="#1c1c1c" stroke-width="1.25" fill="none"/>
<rect x="139.5" y="690.5" width="12.0" height="14.0" fill="#b2b2b2" stroke="#1c1c1c" stroke-width="1.20"/>
<path d="M144.5 681.5V699.5M142.0 681.5H147.0M142.0 699.5H147.0" stroke="#1c1c1c" stroke-width="1.25" fill="none"/>
<text transform="translate(142.30 683.00) scale(1.000 1.000)" font-size="11.00" font-weight="bold" stroke="#111111" stroke-width="0.45" text-anchor="middle" fill="#111111">*</text>
<text transform="translate(149.70 683.00) scale(1.000 1.000)" font-size="11.00" font-weight="bold" stroke="#111111" stroke-width="0.45" text-anchor="middle" fill="#111111">*</text>
<text transform="translate(66.10 664.60) rotate(-90.0) scale(1.000 1.000)" font-size="10.85" font-weight="bold" stroke="#111111" stroke-width="0.45" text-anchor="middle" fill="#111111">Adhesion of thymocytes</text>
<text transform="translate(79.00 668.00) rotate(-90.0) scale(1.000 1.000)" font-size="10.80" font-weight="bold" stroke="#111111" stroke-width="0.45" text-anchor="middle" fill="#111111">(% of input)</text>
<text transform="translate(108.00 714.50) rotate(47.0) scale(1.000 1.000)" font-size="11.00" font-weight="bold" stroke="#111111" stroke-width="0.45" fill="#111111">WT</text>
<text transform="translate(141.00 713.30) rotate(44.0) scale(1.000 1.000)" font-size="10.60" font-weight="bold" stroke="#111111" stroke-width="0.45" fill="#111111">Rac1 -/- /Rac2 -/-</text>
<path d="M220.5 605.0V704.5H278.0M217.0 704.5H220.5M217.0 684.5H220.5M217.0 664.5H220.5M217.0 644.5H220.5M217.0 625.5H220.5M217.0 605.5H220.5M249.5 704.5V706.0M277.5 704.5V706.0" stroke="#1c1c1c" stroke-width="1.00" fill="none"/>
<text transform="translate(214.80 707.40) scale(1.000 1.000)" font-size="8.90" stroke="#111111" stroke-width="0.30" text-anchor="end" fill="#111111">0</text>
<text transform="translate(214.80 687.68) scale(1.000 1.000)" font-size="8.90" stroke="#111111" stroke-width="0.30" text-anchor="end" fill="#111111">5</text>
<text transform="translate(214.80 667.95) scale(1.000 1.000)" font-size="8.90" stroke="#111111" stroke-width="0.30" text-anchor="end" fill="#111111">10</text>
<text transform="translate(214.80 648.23) scale(1.000 1.000)" font-size="8.90" stroke="#111111" stroke-width="0.30" text-anchor="end" fill="#111111">15</text>
<text transform="translate(214.80 628.50) scale(1.000 1.000)" font-size="8.90" stroke="#111111" stroke-width="0.30" text-anchor="end" fill="#111111">20</text>
<text transform="translate(214.80 608.78) scale(1.000 1.000)" font-size="8.90" stroke="#111111" stroke-width="0.30" text-anchor="end" fill="#111111">25</text>
<rect x="229.5" y="635.5" width="12.0" height="69.0" fill="#b2b2b2" stroke="#1c1c1c" stroke-width="1.20"/>
<path d="M235.5 617.5V654.5M233.0 617.5H238.0M233.0 654.5H238.0" stroke="#1c1c1c" stroke-width="1.25" fill="none"/>
<rect x="257.5" y="689.5" width="12.0" height="15.0" fill="#b2b2b2" stroke="#1c1c1c" stroke-width="1.20"/>
<path d="M263.5 677.5V703.5M261.0 677.5H266.0M261.0 703.5H266.0" stroke="#1c1c1c" stroke-width="1.25" fill="none"/>
<text transform="translate(260.50 678.50) scale(1.000 1.000)" font-size="11.00" font-weight="bold" stroke="#111111" stroke-width="0.45" text-anchor="middle" fill="#111111">*</text>
<text transform="translate(267.70 678.50) scale(1.000 1.000)" font-size="11.00" font-weight="bold" stroke="#111111" stroke-width="0.45" text-anchor="middle" fill="#111111">*</text>
<text transform="translate(189.00 656.20) rotate(-90.0) scale(1.000 1.000)" font-size="11.00" font-weight="bold" stroke="#111111" stroke-width="0.45" text-anchor="middle" fill="#111111">Migration of thymocytes</text>
<text transform="translate(201.60 662.60) rotate(-90.0) scale(1.000 1.000)" font-size="11.00" font-weight="bold" stroke="#111111" stroke-width="0.45" text-anchor="middle" fill="#111111">(% of input)</text>
<text transform="translate(229.00 713.00) rotate(47.0) scale(1.000 1.000)" font-size="11.00" font-weight="bold" stroke="#111111" stroke-width="0.45" fill="#111111">WT</text>
<text transform="translate(258.50 712.50) rotate(44.0) scale(1.000 1.000)" font-size="10.60" font-weight="bold" stroke="#111111" stroke-width="0.45" fill="#111111">Rac1 -/- /Rac2 -/-</text>
</g>
<g>
<text transform="translate(333.70 605.30) scale(1.000 1.000)" font-size="16.50" font-weight="bold" stroke="#111111" stroke-width="0.45" fill="#111111">I</text>
<path d="M380.5 626.0V717.5H470.0M377.0 717.5H380.5M377.0 704.5H380.5M377.0 691.5H380.5M377.0 678.5H380.5M377.0 665.5H380.5M377.0 652.5H380.5M377.0 639.5H380.5M377.0 626.5H380.5M424.5 717.5V719.0M469.5 717.5V719.0" stroke="#1c1c1c" stroke-width="1.00" fill="none"/>
<text transform="translate(374.60 720.78) scale(1.000 0.950)" font-size="9.00" stroke="#111111" stroke-width="0.30" text-anchor="end" fill="#111111">0</text>
<text transform="translate(374.60 707.82) scale(1.000 0.950)" font-size="9.00" stroke="#111111" stroke-width="0.30" text-anchor="end" fill="#111111">10</text>
<text transform="translate(374.60 694.86) scale(1.000 0.950)" font-size="9.00" stroke="#111111" stroke-width="0.30" text-anchor="end" fill="#111111">20</text>
<text transform="translate(374.60 681.90) scale(1.000 0.950)" font-size="9.00" stroke="#111111" stroke-width="0.30" text-anchor="end" fill="#111111">30</text>
<text transform="translate(374.60 668.94) scale(1.000 0.950)" font-size="9.00" stroke="#111111" stroke-width="0.30" text-anchor="end" fill="#111111">40</text>
<text transform="translate(374.60 655.98) scale(1.000 0.950)" font-size="9.00" stroke="#111111" stroke-width="0.30" text-anchor="end" fill="#111111">50</text>
<text transform="translate(374.60 643.02) scale(1.000 0.950)" font-size="9.00" stroke="#111111" stroke-width="0.30" text-anchor="end" fill="#111111">60</text>
<text transform="translate(374.60 630.06) scale(1.000 0.950)" font-size="9.00" stroke="#111111" stroke-width="0.30" text-anchor="end" fill="#111111">70</text>
<rect x="390.5" y="657.5" width="13.0" height="60.0" fill="#b2b2b2" stroke="#1c1c1c" stroke-width="1.20"/>
<path d="M397.5 638.5V676.5M395.0 638.5H400.0M395.0 676.5H400.0" stroke="#1c1c1c" stroke-width="1.25" fill="none"/>
<rect x="403.5" y="706.5" width="12.0" height="11.0" fill="#6a6a6a" stroke="#1c1c1c" stroke-width="1.20"/>
<path d="M410.5 701.5V711.5M407.0 701.5H414.0M407.0 711.5H414.0" stroke="#1c1c1c" stroke-width="1.25" fill="none"/>
<rect x="433.5" y="657.5" width="14.0" height="60.0" fill="#b2b2b2" stroke="#1c1c1c" stroke-width="1.20"/>
<path d="M440.5 638.5V676.5M438.0 638.5H443.0M438.0 676.5H443.0" stroke="#1c1c1c" stroke-width="1.25" fill="none"/>
<rect x="447.5" y="712.5" width="12.0" height="5.0" fill="#6a6a6a" stroke="#1c1c1c" stroke-width="1.20"/>
<path d="M453.5 709.5V714.5M450.0 709.5H457.0M450.0 714.5H457.0" stroke="#1c1c1c" stroke-width="1.25" fill="none"/>
<text transform="translate(407.50 701.00) scale(1.000 1.000)" font-size="10.00" font-weight="bold" stroke="#111111" stroke-width="0.45" text-anchor="middle" fill="#111111">*</text>
<text transform="translate(414.20 701.00) scale(1.000 1.000)" font-size="10.00" font-weight="bold" stroke="#111111" stroke-width="0.45" text-anchor="middle" fill="#111111">*</text>
<text transform="translate(451.50 710.00) scale(1.000 1.000)" font-size="10.00" font-weight="bold" stroke="#111111" stroke-width="0.45" text-anchor="middle" fill="#111111">*</text>
<text transform="translate(458.20 710.00) scale(1.000 1.000)" font-size="10.00" font-weight="bold" stroke="#111111" stroke-width="0.45" text-anchor="middle" fill="#111111">*</text>
<rect x="384.5" y="593.5" width="5.0" height="5.0" fill="#b2b2b2" stroke="#1c1c1c" stroke-width="1.25"/>
<text transform="translate(395.00 599.30) scale(1.000 0.940)" font-size="9.70" font-weight="bold" stroke="#111111" stroke-width="0.45" fill="#111111">WT</text>
<rect x="384.5" y="604.5" width="5.0" height="5.0" fill="#6a6a6a" stroke="#1c1c1c" stroke-width="1.25"/>
<text transform="translate(395.00 610.30) scale(1.000 0.940)" font-size="9.70" font-weight="bold" stroke="#111111" stroke-width="0.45" fill="#111111">Rac1<tspan dx="2.72" dy="-2.91" font-size="10.19">-/-</tspan><tspan dx="4.07" dy="2.91">/Rac2</tspan><tspan dx="1.36" dy="-2.91" font-size="10.19">-/-</tspan></text>
<text transform="translate(345.60 669.10) rotate(-90.0) scale(1.000 1.000)" font-size="11.10" font-weight="bold" stroke="#111111" stroke-width="0.45" text-anchor="middle" fill="#111111">Migration of SP cells</text>
<text transform="translate(359.30 674.20) rotate(-90.0) scale(1.000 1.000)" font-size="11.00" font-weight="bold" stroke="#111111" stroke-width="0.45" text-anchor="middle" fill="#111111">(% of input)</text>
<text transform="translate(404.80 731.20) scale(1.000 1.000)" font-size="10.60" font-weight="bold" stroke="#111111" stroke-width="0.45" text-anchor="middle" fill="#111111">CD4<tspan dy="-3.18" font-size="10.60">+</tspan></text>
<text transform="translate(449.50 731.20) scale(1.000 1.000)" font-size="10.60" font-weight="bold" stroke="#111111" stroke-width="0.45" text-anchor="middle" fill="#111111">CD8<tspan dy="-3.18" font-size="10.60">+</tspan></text>
</g>
</svg>
</body></html>
